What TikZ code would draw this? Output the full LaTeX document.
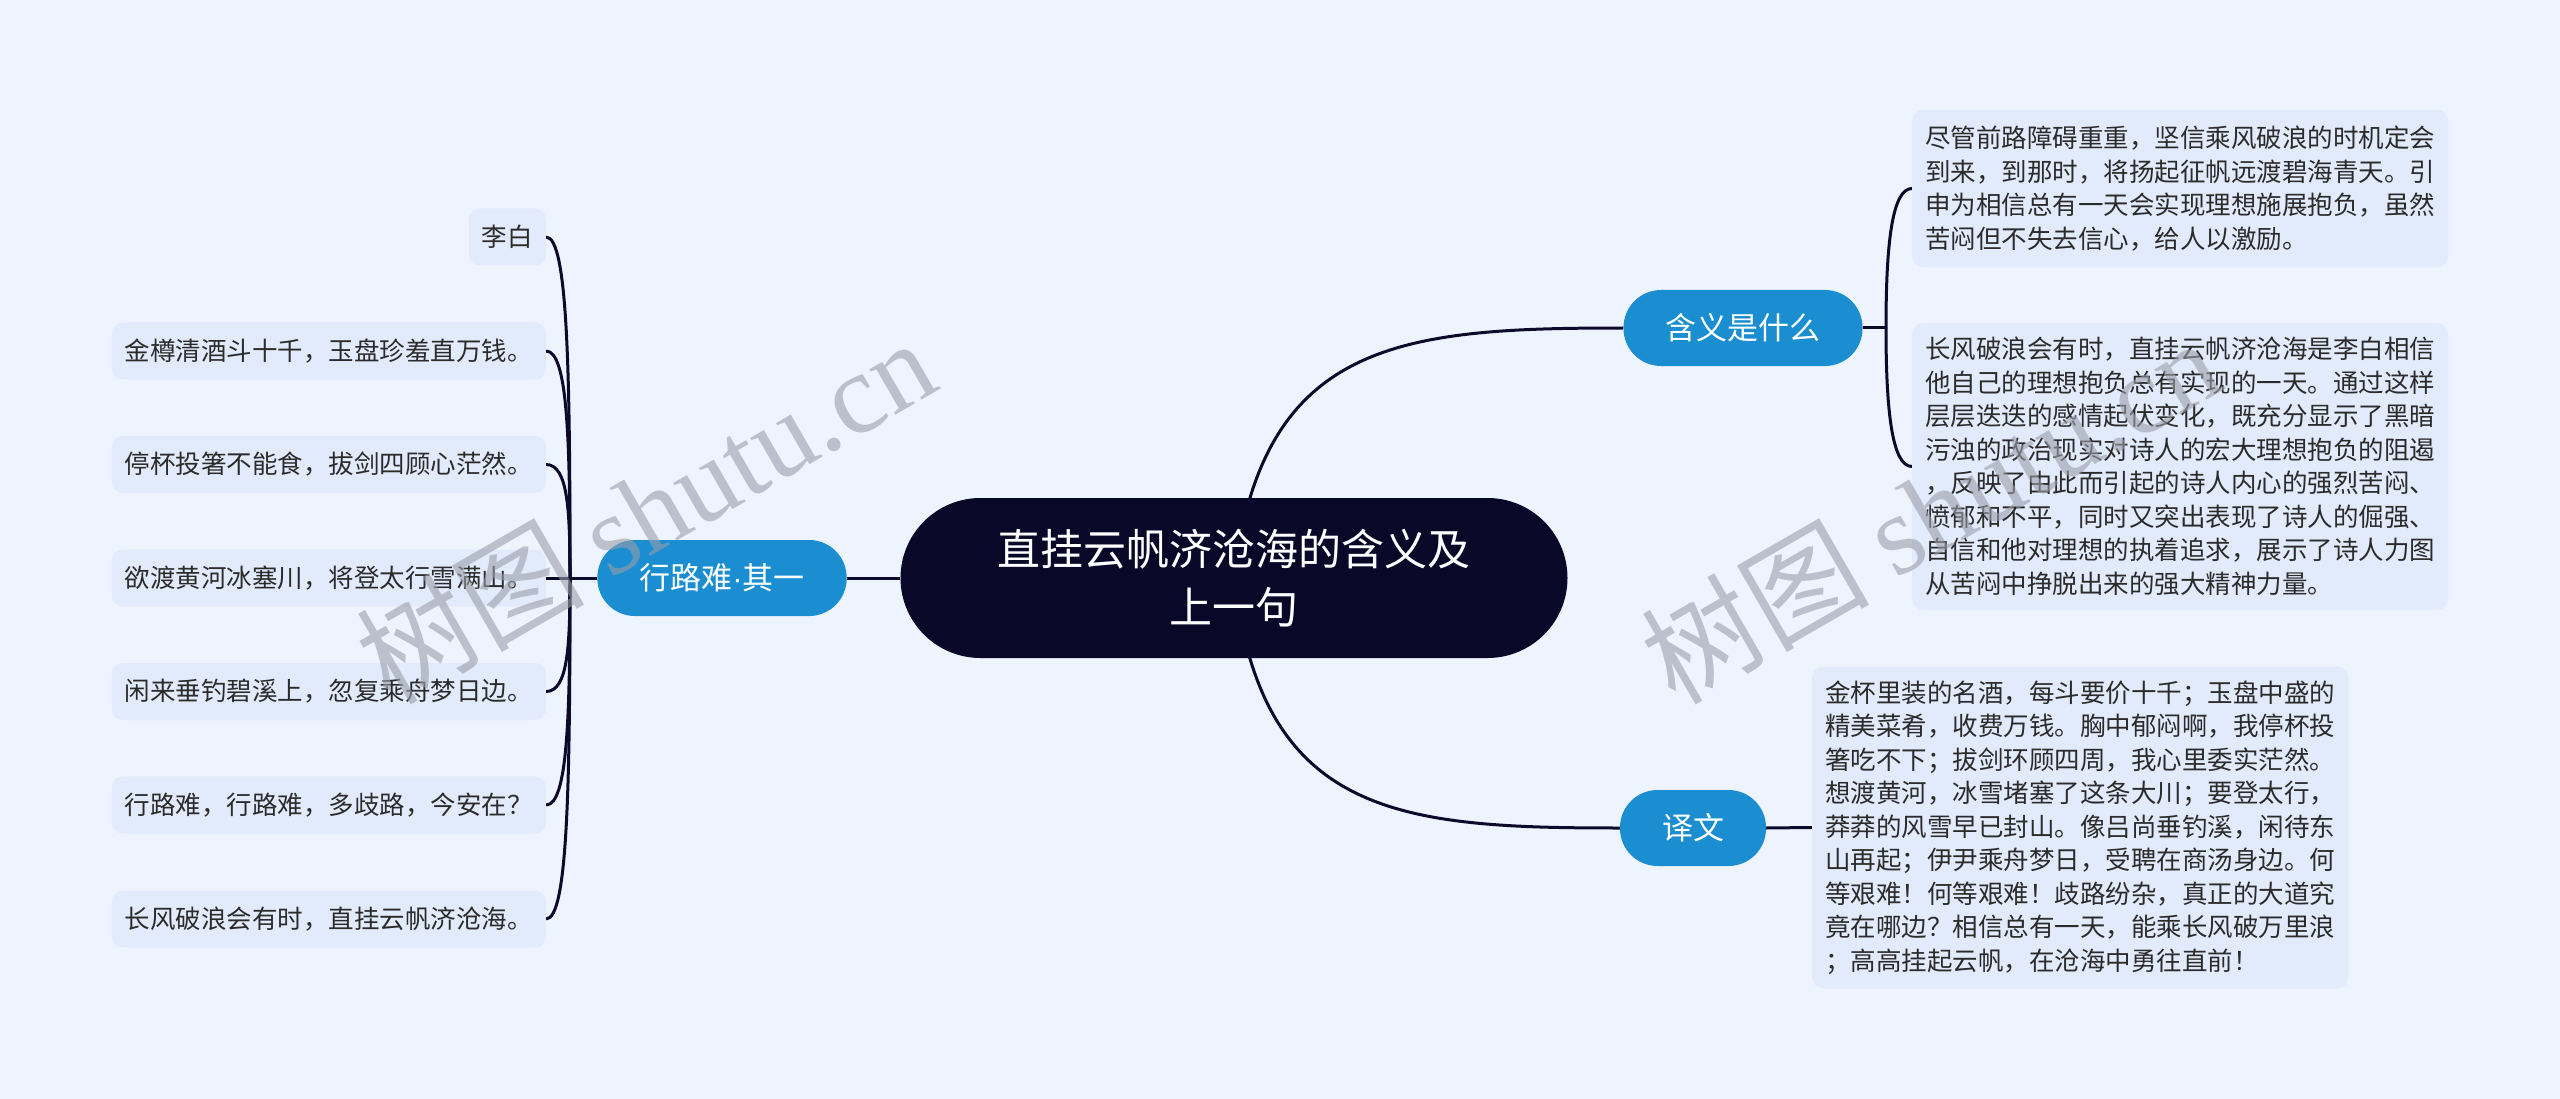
\documentclass[tikz,border=0pt]{standalone}
\usepackage{fontspec}
\setmainfont{Noto Sans CJK SC}
\newfontfamily\wmserif{Liberation Serif}
\newfontfamily\latinsans{Liberation Sans}
\usepackage{tikz}
\usetikzlibrary{backgrounds}

\definecolor{pagebg}{HTML}{EEF4FE}
\definecolor{leafbg}{HTML}{E2EBFB}
\definecolor{leaftext}{HTML}{2B2B2B}
\definecolor{rootfill}{HTML}{0A0829}
\definecolor{topicfill}{HTML}{1A8ED1}
\definecolor{linkcol}{HTML}{0B0A2B}
\definecolor{wmgray}{HTML}{9A9EA8}

\begin{document}
\begin{tikzpicture}[x=1pt, y=-1pt,
			rootnode/.style={rectangle, rounded corners=80pt, fill=rootfill, text=white, minimum width=667pt, minimum height=160pt, align=center, font=\fontsize{43}{58}\selectfont},
			topicnode/.style={rectangle, rounded corners=37.5pt, fill=topicfill, text=white, inner xsep=42pt, minimum height=76pt, font=\fontsize{31}{36}\selectfont},
			notebox/.style={rectangle, rounded corners=11pt, fill=leafbg, text=leaftext, align=left, inner xsep=13pt, inner ysep=14pt, anchor=west, font=\fontsize{25.5}{33.5}\selectfont},
			poembox/.style={rectangle, rounded corners=11pt, fill=leafbg, text=leaftext, inner xsep=13pt, minimum height=57pt, anchor=east, font=\fontsize{25.5}{32}\selectfont},
			link/.style={draw=linkcol, line width=3pt},
			watermark/.style={text=wmgray, opacity=0.6, rotate=30, font=\fontsize{114}{114}\selectfont}]
			
			\useasboundingbox (0,0) rectangle (2560,1099);
			
			\node[rootnode] (root) at (1234,578) {直挂云帆济沧海的含义及\\上一句};
			\node[topicnode] (xl) at (722,578) {行路难{\latinsans ·}其一};
			\node[topicnode] (hy) at (1743,328) {含义是什么};
			\node[topicnode] (yw) at (1693,828) {译文};
			
			% 含义是什么
			\node[notebox, minimum height=157pt] (hy1) at (1912,188.5) {尽管前路障碍重重，坚信乘风破浪的时机定会\\到来，到那时，将扬起征帆远渡碧海青天。引\\申为相信总有一天会实现理想施展抱负，虽然\\苦闷但不失去信心，给人以激励。};
			\node[notebox] (hy2) at (1912,466.5) {长风破浪会有时，直挂云帆济沧海是李白相信\\他自己的理想抱负总有实现的一天。通过这样\\层层迭迭的感情起伏变化，既充分显示了黑暗\\污浊的政治现实对诗人的宏大理想抱负的阻遏\\，反映了由此而引起的诗人内心的强烈苦闷、\\愤郁和不平，同时又突出表现了诗人的倔强、\\自信和他对理想的执着追求，展示了诗人力图\\从苦闷中挣脱出来的强大精神力量。};
			
			% 译文
			\node[notebox] (yw1) at (1812,827.5) {金杯里装的名酒，每斗要价十千；玉盘中盛的\\精美菜肴，收费万钱。胸中郁闷啊，我停杯投\\箸吃不下；拔剑环顾四周，我心里委实茫然。\\想渡黄河，冰雪堵塞了这条大川；要登太行，\\莽莽的风雪早已封山。像吕尚垂钓溪，闲待东\\山再起；伊尹乘舟梦日，受聘在商汤身边。何\\等艰难！何等艰难！歧路纷杂，真正的大道究\\竟在哪边？相信总有一天，能乘长风破万里浪\\；高高挂起云帆，在沧海中勇往直前！};
			
			% 行路难·其一
			\node[poembox] (p1) at (546,237) {李白};
			\node[poembox] (p2) at (546,351) {金樽清酒斗十千，玉盘珍羞直万钱。};
			\node[poembox] (p3) at (546,464.5) {停杯投箸不能食，拔剑四顾心茫然。};
			\node[poembox] (p4) at (546,578) {欲渡黄河冰塞川，将登太行雪满山。};
			\node[poembox] (p5) at (546,691.5) {闲来垂钓碧溪上，忽复乘舟梦日边。};
			\node[poembox] (p6) at (546,805) {行路难，行路难，多歧路，今安在？};
			\node[poembox] (p7) at (546,919) {长风破浪会有时，直挂云帆济沧海。};
			
			\coordinate (jl) at (570,578);
			\coordinate (jr) at (1886,328);
			
			\begin{scope}[on background layer]
				\fill[pagebg] (0,0) rectangle (2560,1099);
				
				\draw[link] (root.center) .. controls +(28,-238) and +(-222,0) .. (hy.west);
				\draw[link] (root.center) .. controls +(28,238) and +(-222,0) .. (yw.west);
				\draw[link] (root.west) -- (xl.east);
				
				\draw[link] (xl.west) -- (jl);
				\draw[link] (p4.east) -- (jl);
				\draw[link] (p1.east) to[out=0, in=90, out distance=22pt, in distance=205pt] (jl);
				\draw[link] (p2.east) to[out=0, in=90, out distance=22pt, in distance=136pt] (jl);
				\draw[link] (p3.east) to[out=0, in=90, out distance=22pt, in distance=68pt] (jl);
				\draw[link] (p5.east) to[out=0, in=270, out distance=22pt, in distance=68pt] (jl);
				\draw[link] (p6.east) to[out=0, in=270, out distance=22pt, in distance=136pt] (jl);
				\draw[link] (p7.east) to[out=0, in=270, out distance=22pt, in distance=205pt] (jl);
				
				\draw[link] (hy.east) -- (jr);
				\draw[link] (jr) to[out=90, in=180, out distance=84pt, in distance=20pt] (hy1.west);
				\draw[link] (jr) to[out=270, in=180, out distance=83pt, in distance=20pt] (hy2.west);
				
				\draw[link] (yw.east) -- (yw1.west);
			\end{scope}
			
			\node[watermark] (wm1) at (645,510) {树图 {\wmserif shutu.cn}};
			\node[watermark] (wm2) at (1930,510) {树图 {\wmserif shutu.cn}};
			
		\end{tikzpicture}
\end{document}
